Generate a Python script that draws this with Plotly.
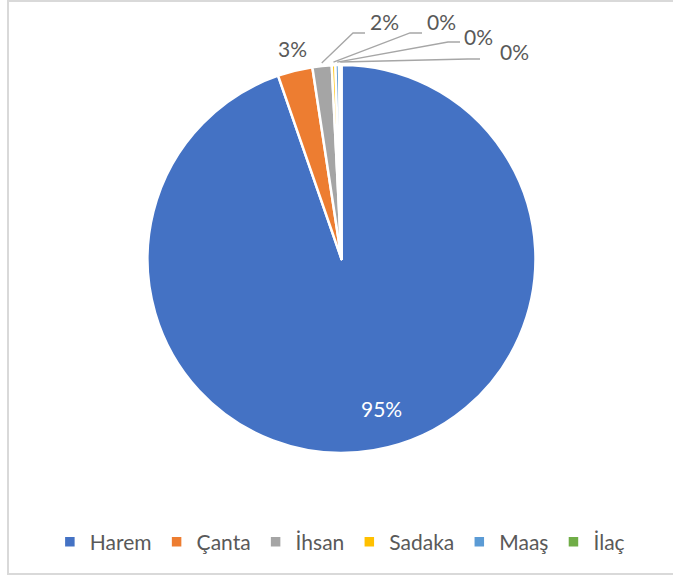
import math
import plotly.graph_objects as go

# ---- data ----
categories = ["Harem", "Çanta", "İhsan", "Sadaka", "Maaş", "İlaç"]
values = [94.7, 2.9, 1.6, 0.3, 0.3, 0.2]
colors = ["#4472C4", "#ED7D31", "#A5A5A5", "#FFC000", "#5B9BD5", "#70AD47"]

# ---- layout constants (pixels) ----
W, H = 673, 580
CX, CY, R = 341.5, 259.0, 194.0
FONT = "Lato"
FS = 21
TXT = "#595959"
LEADER = "#A6A6A6"

def px(x):
    return x / W

def py(y):
    return 1 - y / H

total = sum(values)
labels_txt = [f"{round(v / total * 100)}%" for v in values]

# mid angles (clockwise from 12 o'clock, degrees)
mids = []
cum = 0.0
for v in values:
    mids.append((cum + v / 2) / total * 360.0)
    cum += v

def polar(angle_deg, rad):
    a = math.radians(angle_deg)
    return CX + rad * math.sin(a), CY - rad * math.cos(a)

fig = go.Figure()
fig.add_trace(go.Pie(
    labels=categories,
    values=values,
    sort=False,
    direction="clockwise",
    rotation=0,
    textinfo="none",
    hoverinfo="label+percent",
    marker=dict(colors=colors, line=dict(color="white", width=2.5)),
    domain=dict(x=[px(CX - R), px(CX + R)], y=[py(CY + R), py(CY - R)]),
))

annotations = []
shapes = []

# Harem label inside (mid-angle, shifted slightly)
hx, hy = polar(mids[0] - 5.5, 0.80 * R)
annotations.append(dict(x=px(hx), y=py(hy), xref="paper", yref="paper",
                        text=labels_txt[0], showarrow=False,
                        font=dict(family=FONT, size=FS, color="white"),
                        xanchor="center", yanchor="middle"))

# Çanta label outside, no leader
cx_, cy_ = polar(mids[1] + 0.7, 1.115 * R)
annotations.append(dict(x=px(cx_), y=py(cy_), xref="paper", yref="paper",
                        text=labels_txt[1], showarrow=False,
                        font=dict(family=FONT, size=FS, color=TXT),
                        xanchor="center", yanchor="middle"))

# leader-lined labels: (elbow, line end, text center) in pixels
leader_layout = [
    ((353, 33), (365, 33), (384, 22)),
    ((410, 33), (422, 33), (441, 22)),
    ((448, 42), (460, 42), (478, 36)),
    ((468, 59), (480, 59), (514, 52)),
]
for i, (elbow, end, tc) in zip(range(2, 6), leader_layout):
    sx, sy = polar(mids[i], R + 3)
    path = (f"M {px(sx)} {py(sy)} L {px(elbow[0])} {py(elbow[1])} "
            f"L {px(end[0])} {py(end[1])}")
    shapes.append(dict(type="path", xref="paper", yref="paper", path=path,
                       line=dict(color=LEADER, width=1.3)))
    annotations.append(dict(x=px(tc[0]), y=py(tc[1]), xref="paper", yref="paper",
                            text=labels_txt[i], showarrow=False,
                            font=dict(family=FONT, size=FS, color=TXT),
                            xanchor="center", yanchor="middle"))

# chart frame
shapes.append(dict(type="rect", xref="paper", yref="paper",
                   x0=px(8), x1=px(W + 10), y0=py(574), y1=py(1),
                   line=dict(color="#D9D9D9", width=2)))

fig.update_layout(
    width=W, height=H,
    margin=dict(l=0, r=0, t=0, b=0),
    paper_bgcolor="white",
    plot_bgcolor="white",
    showlegend=True,
    legend=dict(orientation="h", x=0.505, xanchor="center",
                y=py(542), yanchor="middle",
                font=dict(family=FONT, size=FS, color=TXT),
                traceorder="normal"),
    annotations=annotations,
    shapes=shapes,
)

fig.write_html("out.html",
               config={"displayModeBar": False},
               post_script="document.body.style.margin='0';document.body.style.overflow='hidden';")
